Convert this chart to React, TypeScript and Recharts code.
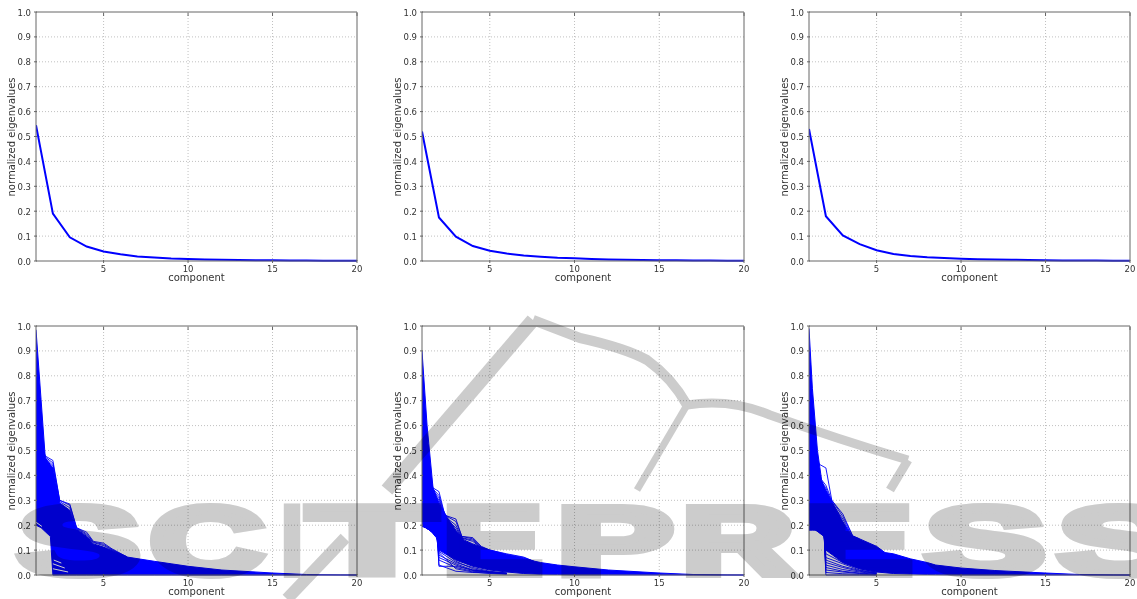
import { ComposedChart, Area, Line, XAxis, YAxis, CartesianGrid } from 'recharts';

const components = [1, 2, 3, 4, 5, 6, 7, 8, 9, 10, 11, 12, 13, 14, 15, 16, 17, 18, 19, 20];
const xTicks = [5, 10, 15, 20];
const yTicks = [0, 0.1, 0.2, 0.3, 0.4, 0.5, 0.6, 0.7, 0.8, 0.9, 1];
const xGrid = [5, 10, 15];
const yGrid = [0.1, 0.2, 0.3, 0.4, 0.5, 0.6, 0.7, 0.8, 0.9];

// top row, one curve each
const meanA = [0.545, 0.19, 0.095, 0.058, 0.038, 0.027, 0.018, 0.014, 0.01, 0.008, 0.006, 0.005, 0.004, 0.003, 0.003, 0.002, 0.002, 0.001, 0.001, 0.001];
const meanB = [0.52, 0.175, 0.098, 0.06, 0.041, 0.03, 0.022, 0.017, 0.013, 0.011, 0.008, 0.006, 0.005, 0.004, 0.003, 0.003, 0.002, 0.002, 0.001, 0.001];
const meanC = [0.53, 0.18, 0.103, 0.068, 0.043, 0.028, 0.02, 0.015, 0.012, 0.009, 0.007, 0.006, 0.005, 0.004, 0.003, 0.002, 0.002, 0.002, 0.001, 0.001];

// bottom row: the dense mass of curves read as its outline, then the loose curves on top
const bandXA = [1, 1.55, 2, 2.4, 3, 3.4, 4, 4.4, 5, 6.4, 8, 9, 10, 12, 15, 17, 19, 20];
const bandHighA = [0.985, 0.47, 0.43, 0.29, 0.26, 0.185, 0.155, 0.125, 0.112, 0.072, 0.055, 0.045, 0.035, 0.02, 0.008, 0.002, 0.0005, 0];
const lowXA = [1, 1.3, 1.85, 2, 20];
const lowYA = [0.2, 0.19, 0.155, 0, 0];
const upperXA = [1, 1.55, 2, 2.4, 3, 3.4, 4, 4.4, 5, 5.5, 6.4];
const upperLinesA = [
  [0.6, 0.478, 0.46, 0.3, 0.285, 0.19, 0.172, 0.135, 0.128, 0.105, 0.072],
  [0.6, 0.474, 0.45, 0.3, 0.28, 0.19, 0.165, 0.132, 0.123, 0.102, 0.072],
  [0.6, 0.47, 0.44, 0.295, 0.27, 0.188, 0.16, 0.13, 0.118, 0.1, 0.072],
];
const lowerXA = [1, 1.85, 2, 3];
const lowerLinesA: number[][] = [];
const gapLinesA = [
  { x: [2, 2.9], y: [0.025, 0.012] },
  { x: [2, 2.7], y: [0.045, 0.028] },
  { x: [2.05, 2.5], y: [0.06, 0.048] },
  { x: [1, 1.35], y: [0.212, 0.195] },
];

const bandXB = [1, 1.3, 1.65, 2, 2.5, 3, 3.5, 4, 5, 6, 7, 8, 9, 10, 12, 15, 17, 19, 20];
const bandHighB = [0.9, 0.6, 0.35, 0.29, 0.23, 0.18, 0.14, 0.125, 0.1, 0.08, 0.065, 0.05, 0.04, 0.033, 0.02, 0.008, 0.002, 0.0003, 0];
const lowXB = [1, 1.4, 1.85, 2, 3, 4, 5, 6, 7, 8, 10, 20];
const lowYB = [0.195, 0.185, 0.15, 0.1, 0.06, 0.035, 0.02, 0.012, 0.006, 0.003, 0.001, 0];
const upperXB = [1, 1.65, 2, 2.35, 3, 3.35, 4, 4.5, 5, 6, 7, 7.6];
const upperLinesB = [
  [0.5, 0.35, 0.335, 0.24, 0.225, 0.155, 0.15, 0.115, 0.1, 0.085, 0.072, 0.055],
  [0.5, 0.345, 0.32, 0.24, 0.215, 0.155, 0.145, 0.11, 0.1, 0.083, 0.07, 0.055],
  [0.5, 0.34, 0.31, 0.235, 0.2, 0.15, 0.14, 0.11, 0.098, 0.08, 0.068, 0.054],
  [0.5, 0.335, 0.3, 0.23, 0.19, 0.148, 0.135, 0.108, 0.098, 0.08, 0.066, 0.053],
];
const lowerXB = [1, 1.9, 2, 3, 4, 5, 6];
const lowerLinesB = [
  [0.21, 0.16, 0.035, 0.035, 0.02, 0.012, 0.008],
  [0.22, 0.16, 0.04, 0.015, 0.01, 0.008, 0.005],
  [0.21, 0.16, 0.06, 0.03, 0.015, 0.01, 0.006],
  [0.2, 0.16, 0.07, 0.04, 0.018, 0.01, 0.005],
  [0.2, 0.16, 0.08, 0.045, 0.02, 0.012, 0.006],
  [0.2, 0.16, 0.09, 0.025, 0.012, 0.006, 0.003],
  [0.2, 0.16, 0.095, 0.05, 0.03, 0.015, 0.008],
  [0.2, 0.16, 0.11, 0.055, 0.025, 0.012, 0.006],
];
const gapLinesB: { x: number[]; y: number[] }[] = [];

const bandXC = [1, 1.2, 1.5, 1.75, 2, 2.4, 3, 3.5, 4, 5, 5.5, 6, 7, 8, 8.5, 10, 12, 15, 17, 19, 20];
const bandHighC = [0.99, 0.75, 0.5, 0.38, 0.34, 0.29, 0.215, 0.16, 0.145, 0.115, 0.09, 0.085, 0.065, 0.05, 0.04, 0.028, 0.018, 0.008, 0.002, 0.0003, 0];
const lowXC = [1, 1.5, 1.9, 2, 3, 4, 5, 6, 8, 10, 20];
const lowYC = [0.18, 0.18, 0.155, 0.1, 0.05, 0.025, 0.012, 0.006, 0.002, 0.0005, 0];
const upperXC = [1, 1.6, 2, 2.35, 3, 3.6, 4];
const upperLinesC = [
  [0.55, 0.445, 0.43, 0.3, 0.245, 0.155, 0.145],
  [0.55, 0.395, 0.36, 0.3, 0.235, 0.155, 0.14],
  [0.5, 0.385, 0.35, 0.29, 0.225, 0.15, 0.14],
  [0.5, 0.37, 0.33, 0.28, 0.21, 0.15, 0.135],
];
const lowerXC = [1, 1.9, 2, 3, 4, 5];
const lowerLinesC = [
  [0.2, 0.155, 0, 0, 0, 0],
  [0.2, 0.155, 0.01, 0.005, 0.003, 0.001],
  [0.21, 0.16, 0.02, 0.012, 0.006, 0.002],
  [0.21, 0.16, 0.03, 0.015, 0.008, 0.003],
  [0.2, 0.16, 0.04, 0.022, 0.012, 0.005],
  [0.2, 0.16, 0.05, 0.03, 0.015, 0.006],
  [0.2, 0.16, 0.06, 0.035, 0.018, 0.007],
  [0.2, 0.16, 0.07, 0.045, 0.02, 0.008],
  [0.21, 0.16, 0.085, 0.05, 0.025, 0.01],
];
const gapLinesC: { x: number[]; y: number[] }[] = [];

const markLetters = ['S', 'C', 'I', 'T', 'E', 'P', 'R', 'E', 'S', 'S'];
const markLeft = [18, 150, 282, 309, 443, 557, 682, 805, 925, 1058];
const markWidth = [122, 114, 20, 126, 99, 116, 112, 107, 120, 122];

const FONT = '"DejaVu Sans", sans-serif';
const INK = '#333';
const FRAME = '#666';
const BLUE = '#0000ff';

const zip = (xs: number[], ys: number[]) => xs.map((x, i) => ({ x, y: ys[i] }));

// outline of the mass: high edge and low edge share one x list
function lerp(xs: number[], ys: number[], x: number) {
  for (let i = 1; i < xs.length; i++) {
    if (x <= xs[i]) {
      const t = (x - xs[i - 1]) / (xs[i] - xs[i - 1]);
      return ys[i - 1] + t * (ys[i] - ys[i - 1]);
    }
  }
  return ys[ys.length - 1];
}
function bandRows(hx: number[], hy: number[], lx: number[], ly: number[]) {
  const xs = Array.from(new Set([...hx, ...lx])).sort((a, b) => a - b);
  return xs.map(x => ({ x, band: [lerp(lx, ly, x), lerp(hx, hy, x)] }));
}

function BottomTick({ x, y, payload }: any) {
  return (
    <g>
      <line x1={x} x2={x} y1={y} y2={y - 3} stroke={FRAME} />
      <text x={x} y={y + 9} textAnchor="middle" fontSize={8.5} fontFamily={FONT} fill={INK}>{payload.value}</text>
    </g>
  );
}
function TopTick({ x, y }: any) {
  return <line x1={x} x2={x} y1={y + 3} y2={y + 6} stroke={FRAME} />;
}
function LeftTick({ x, y, payload }: any) {
  return (
    <g>
      <line x1={x} x2={x + 3} y1={y} y2={y} stroke={FRAME} />
      <text x={x - 3} y={y + 3.5} textAnchor="end" fontSize={8.5} fontFamily={FONT} fill={INK}>{payload.value.toFixed(1)}</text>
    </g>
  );
}
function RightTick({ x, y }: any) {
  return <line x1={x} x2={x - 3} y1={y} y2={y} stroke={FRAME} />;
}

type PanelProps = {
  left: number;
  top: number;
  plotW: number;
  mean?: number[];
  rows?: { x: number; band: number[] }[];
  upperX?: number[];
  upper?: number[][];
  lowerX?: number[];
  lower?: number[][];
  gaps?: { x: number[]; y: number[] }[];
};

function Panel({ left, top, plotW, mean, rows, upperX, upper, lowerX, lower, gaps }: PanelProps) {
  const w = 36 + plotW + 12;
  const h = 12 + 249 + 30;
  return (
    <div style={{ position: 'absolute', left: left - 36, top: top - 12 }}>
      <ComposedChart width={w} height={h} data={rows ?? []} margin={{ top: 11, right: 0, bottom: 0, left: 0 }}>
        <CartesianGrid stroke="#c0c0c0" strokeDasharray="1 2" verticalValues={xGrid} horizontalValues={yGrid} />
        <XAxis
          dataKey="x"
          type="number"
          domain={[1, 20]}
          ticks={xTicks}
          allowDataOverflow
          height={30}
          tickSize={0}
          tickLine={false}
          tick={BottomTick}
          stroke={FRAME}
          label={{ value: 'component', position: 'insideBottom', offset: 10, fontSize: 10, fontFamily: FONT, fill: INK }}
        />
        <XAxis xAxisId="top" orientation="top" type="number" dataKey="x" domain={[1, 20]} ticks={xTicks} allowDataOverflow height={1} tickSize={0} tickLine={false} tick={TopTick} stroke={FRAME} />
        <YAxis
          type="number"
          domain={[0, 1]}
          ticks={yTicks}
          width={36}
          tickSize={0}
          tickLine={false}
          tick={LeftTick}
          stroke={FRAME}
          label={{ value: 'normalized eigenvalues', angle: -90, position: 'insideLeft', offset: 11, dy: 60, fontSize: 10, fontFamily: FONT, fill: INK }}
        />
        <YAxis yAxisId="right" orientation="right" type="number" domain={[0, 1]} ticks={yTicks} width={12} tickSize={0} tickLine={false} tick={RightTick} stroke={FRAME} />
        {rows && <Area dataKey="band" type="linear" stroke={BLUE} strokeWidth={1} fill={BLUE} fillOpacity={1} dot={false} activeDot={false} isAnimationActive={false} />}
        {mean && <Line data={zip(components, mean)} dataKey="y" type="linear" stroke={BLUE} strokeWidth={2} dot={false} isAnimationActive={false} />}
        {upper?.map((ys, i) => (
          <Line key={'u' + i} data={zip(upperX!, ys)} dataKey="y" type="linear" stroke={BLUE} strokeWidth={0.9} dot={false} isAnimationActive={false} />
        ))}
        {lower?.map((ys, i) => (
          <Line key={'l' + i} data={zip(lowerX!, ys)} dataKey="y" type="linear" stroke={BLUE} strokeWidth={0.9} dot={false} isAnimationActive={false} />
        ))}
        {gaps?.map((g, i) => (
          <Line key={'g' + i} data={zip(g.x, g.y)} dataKey="y" type="linear" stroke="#fff" strokeWidth={1} dot={false} isAnimationActive={false} />
        ))}
      </ComposedChart>
    </div>
  );
}

// publisher's mark lying over the whole page
function Watermark() {
  return (
    <svg width={1137} height={599} style={{ position: 'absolute', left: 0, top: 0, mixBlendMode: 'multiply', pointerEvents: 'none' }}>
      <g fill="none" stroke="#ccc" strokeLinejoin="round">
        <path d="M387 490 L533 320" strokeWidth={14} />
        <path d="M533 320 L580 338 Q625 348 647 360 Q672 378 687 405" strokeWidth={10} />
        <path d="M687 405 L637 490" strokeWidth={7} />
        <path d="M687 405 Q730 398 770 415 Q840 440 908 460" strokeWidth={9} />
        <path d="M908 460 L890 490" strokeWidth={9} />
        <path d="M345 538 L287 599" strokeWidth={12} />
      </g>
      {markLetters.map((ch, i) => (
        <text
          key={i}
          x={markLeft[i]}
          y={574}
          fontSize={96}
          fontWeight="bold"
          fontFamily={'"Liberation Sans", sans-serif'}
          fill="#ccc"
          stroke="#ccc"
          strokeWidth={8}
          textLength={markWidth[i]}
          lengthAdjust="spacingAndGlyphs"
        >
          {ch}
        </text>
      ))}
    </svg>
  );
}

export default function App() {
  return (
    <div style={{ position: 'absolute', left: 0, top: 0, width: 1137, height: 599, background: '#fff', overflow: 'hidden' }}>
      <Panel left={36} top={12} plotW={321} mean={meanA} />
      <Panel left={422} top={12} plotW={322} mean={meanB} />
      <Panel left={809} top={12} plotW={321} mean={meanC} />
      <Panel left={36} top={326} plotW={321} rows={bandRows(bandXA, bandHighA, lowXA, lowYA)} upperX={upperXA} upper={upperLinesA} lowerX={lowerXA} lower={lowerLinesA} gaps={gapLinesA} />
      <Panel left={422} top={326} plotW={322} rows={bandRows(bandXB, bandHighB, lowXB, lowYB)} upperX={upperXB} upper={upperLinesB} lowerX={lowerXB} lower={lowerLinesB} gaps={gapLinesB} />
      <Panel left={809} top={326} plotW={321} rows={bandRows(bandXC, bandHighC, lowXC, lowYC)} upperX={upperXC} upper={upperLinesC} lowerX={lowerXC} lower={lowerLinesC} gaps={gapLinesC} />
      <Watermark />
    </div>
  );
}
